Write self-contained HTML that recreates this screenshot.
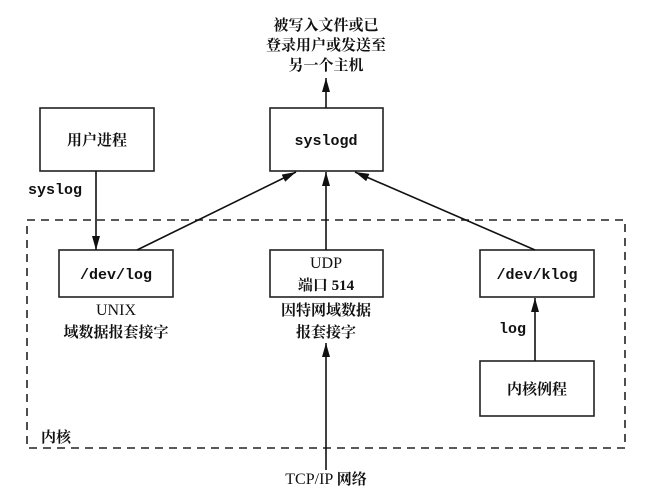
<!DOCTYPE html>
<html><head><meta charset="utf-8"><style>
body{margin:0;background:#fff;}
svg{display:block}
.c{font-family:"Liberation Serif","Noto Serif CJK SC","Noto Sans CJK SC",serif;font-size:15px;font-weight:bold;fill:#111}
.m{font-family:"Liberation Mono",monospace;font-size:15px;font-weight:bold;fill:#111}
.s{font-family:"Liberation Serif","Noto Serif CJK SC",serif;font-size:16px;fill:#111}
</style></head><body>
<svg width="646" height="492" viewBox="0 0 646 492">
<defs><marker id="a" markerWidth="14" markerHeight="8" refX="14" refY="4" orient="auto" markerUnits="userSpaceOnUse" viewBox="0 0 14 8"><path d="M0,0 L14,4 L0,8 Z" fill="#111"/></marker></defs>
<g stroke="#222" stroke-width="1.6" fill="none">
<rect x="40" y="108" width="114" height="63"/>
<rect x="270" y="108" width="113" height="63"/>
<rect x="59" y="250" width="114" height="47"/>
<rect x="270" y="250" width="113" height="47"/>
<rect x="480" y="250" width="114" height="47"/>
<rect x="480" y="361" width="114" height="55"/>
<rect x="27" y="220" width="598" height="228" stroke-dasharray="8,6"/>
</g>
<g stroke="#111" stroke-width="1.6" marker-end="url(#a)">
<line x1="326" y1="108" x2="326" y2="78"/>
<line x1="96" y1="171" x2="96" y2="250"/>
<line x1="137" y1="250" x2="296" y2="172"/>
<line x1="326" y1="250" x2="326" y2="172"/>
<line x1="535" y1="250" x2="355" y2="172"/>
<line x1="535" y1="361" x2="535" y2="298"/>
<line x1="326" y1="470" x2="326" y2="343"/>
</g>
<text class="c" x="326" y="30" text-anchor="middle">被写入文件或已</text>
<text class="c" x="326" y="50" text-anchor="middle">登录用户或发送至</text>
<text class="c" x="326" y="70" text-anchor="middle">另一个主机</text>
<text class="c" x="97" y="145" text-anchor="middle">用户进程</text>
<text class="m" x="326" y="145" text-anchor="middle">syslogd</text>
<text class="m" x="28" y="194">syslog</text>
<text class="m" x="116" y="279" text-anchor="middle">/dev/log</text>
<text class="s" x="326" y="268" text-anchor="middle">UDP</text>
<text class="c" x="326" y="290" text-anchor="middle" font-weight="normal">端口 514</text>
<text class="m" x="537" y="279" text-anchor="middle">/dev/klog</text>
<text class="s" x="116" y="315" text-anchor="middle">UNIX</text>
<text class="c" x="116" y="337" text-anchor="middle">域数据报套接字</text>
<text class="c" x="326" y="315" text-anchor="middle">因特网域数据</text>
<text class="c" x="326" y="337" text-anchor="middle">报套接字</text>
<text class="m" x="499" y="333">log</text>
<text class="c" x="537" y="394" text-anchor="middle">内核例程</text>
<text class="c" x="41" y="442">内核</text>
<text class="s" x="326" y="484" text-anchor="middle">TCP/IP <tspan font-weight="bold" font-size="15">网络</tspan></text>
</svg>
</body></html>
